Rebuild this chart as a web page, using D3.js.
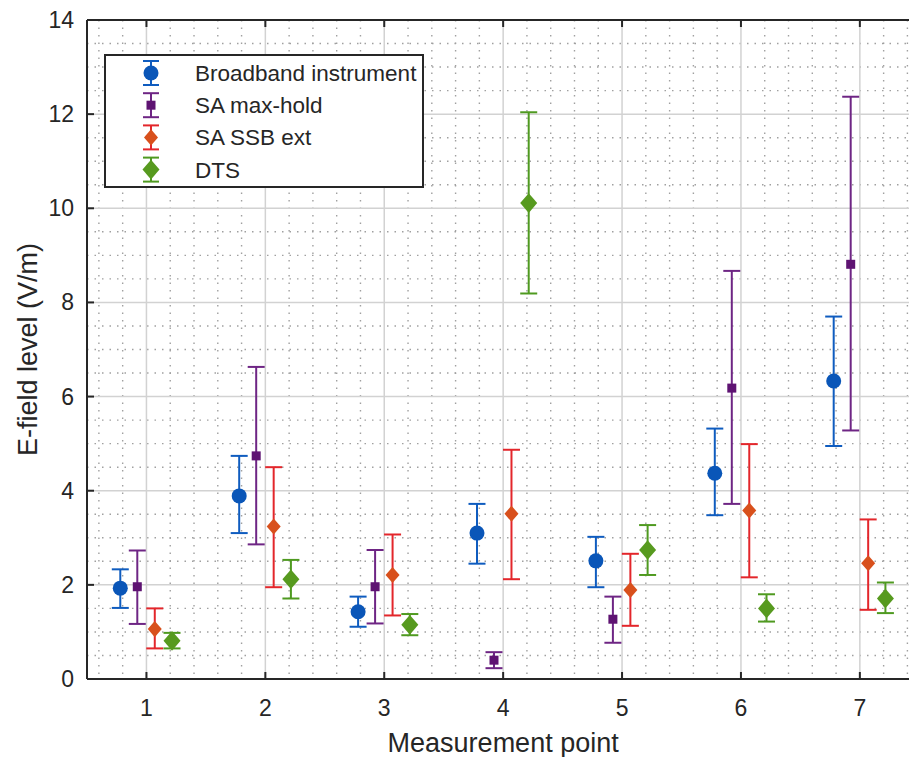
<!DOCTYPE html>
<html>
<head>
<meta charset="utf-8">
<script src="https://cdn.jsdelivr.net/npm/d3@7"></script>
<style>
  body { margin: 0; background: #fff; }
  text { font-family: "Liberation Sans", Arial, sans-serif; fill: #262626; }
</style>
</head>
<body>
<div id="chart"></div>
<script>
// Measurement points
const points = [1, 2, 3, 4, 5, 6, 7];

// Broadband instrument
const broadband = [1.93, 3.89, 1.43, 3.10, 2.51, 4.37, 6.33];
const broadbandLow = [1.51, 3.10, 1.11, 2.45, 1.95, 3.48, 4.95];
const broadbandHigh = [2.33, 4.74, 1.75, 3.72, 3.02, 5.32, 7.70];

// SA max-hold
const maxHold = [1.96, 4.74, 1.96, 0.40, 1.27, 6.18, 8.81];
const maxHoldLow = [1.17, 2.86, 1.18, 0.23, 0.77, 3.72, 5.28];
const maxHoldHigh = [2.73, 6.63, 2.74, 0.57, 1.75, 8.67, 12.37];

// SA SSB ext
const ssb = [1.06, 3.24, 2.21, 3.51, 1.89, 3.58, 2.46];
const ssbLow = [0.65, 1.95, 1.35, 2.12, 1.13, 2.16, 1.47];
const ssbHigh = [1.50, 4.50, 3.07, 4.87, 2.66, 4.99, 3.39];

// DTS
const dts = [0.81, 2.12, 1.15, 10.11, 2.74, 1.50, 1.71];
const dtsLow = [0.65, 1.71, 0.93, 8.19, 2.21, 1.22, 1.40];
const dtsHigh = [0.98, 2.53, 1.38, 12.04, 3.27, 1.80, 2.05];

const yTicks = [0, 2, 4, 6, 8, 10, 12, 14];

const series = [
  { name: "Broadband instrument", mid: broadband, lo: broadbandLow, hi: broadbandHigh,
    offset: -0.22, bar: "#0f5cbf", fill: "#0a56b8", shape: "circle", size: 7.5 },
  { name: "SA max-hold", mid: maxHold, lo: maxHoldLow, hi: maxHoldHigh,
    offset: -0.077, bar: "#6e2584", fill: "#5e1372", shape: "square", size: 4.5 },
  { name: "SA SSB ext", mid: ssb, lo: ssbLow, hi: ssbHigh,
    offset: 0.07, bar: "#e3262b", fill: "#d8501c", shape: "diamond", size: 7 },
  { name: "DTS", mid: dts, lo: dtsLow, hi: dtsHigh,
    offset: 0.215, bar: "#4f9a20", fill: "#579a1f", shape: "diamond", size: 8.5 }
];

const width = 909, height = 757;
const plot = { left: 87, top: 20, bottom: 679 };

const svg = d3.select("#chart").append("svg")
  .attr("width", width)
  .attr("height", height);

const x = d3.scaleLinear().domain([0.5, 7.5]).range([plot.left, plot.left + 7 * 118.9]);
const y = d3.scaleLinear().domain([0, 14]).range([plot.bottom, plot.top]);
const xr = x.range();

// minor grid
const grid = svg.append("g");
grid.selectAll(".mx")
  .data(d3.range(0.6, 7.5, 0.2).filter(v => Math.abs(v - Math.round(v)) > 0.05))
  .enter().append("line")
  .attr("x1", d => x(d)).attr("x2", d => x(d))
  .attr("y1", plot.top).attr("y2", plot.bottom)
  .attr("stroke", "#a0a0a0").attr("stroke-width", 1.4)
  .attr("stroke-dasharray", "1.5,6");
grid.selectAll(".my")
  .data(d3.range(0.5, 14, 0.5).filter(v => v % 2 !== 0))
  .enter().append("line")
  .attr("x1", xr[0]).attr("x2", xr[1])
  .attr("y1", d => y(d)).attr("y2", d => y(d))
  .attr("stroke", "#a0a0a0").attr("stroke-width", 1.4)
  .attr("stroke-dasharray", "1.5,6");

// major grid
grid.selectAll(".gx").data(points).enter().append("line")
  .attr("x1", d => x(d)).attr("x2", d => x(d))
  .attr("y1", plot.top).attr("y2", plot.bottom)
  .attr("stroke", "#d2d2d2").attr("stroke-width", 1.5);
grid.selectAll(".gy").data(yTicks.slice(1, -1)).enter().append("line")
  .attr("x1", xr[0]).attr("x2", xr[1])
  .attr("y1", d => y(d)).attr("y2", d => y(d))
  .attr("stroke", "#d2d2d2").attr("stroke-width", 1.5);

// marker drawing
function marker(g, s, cx, cy) {
  if (s.shape === "circle") {
    g.append("circle").attr("cx", cx).attr("cy", cy).attr("r", s.size).attr("fill", s.fill);
  } else if (s.shape === "square") {
    g.append("rect").attr("x", cx - s.size).attr("y", cy - s.size)
      .attr("width", 2 * s.size).attr("height", 2 * s.size).attr("fill", s.fill);
  } else {
    const r = s.size;
    g.append("path")
      .attr("d", `M${cx},${cy - r * 1.15}L${cx + r},${cy}L${cx},${cy + r * 1.15}L${cx - r},${cy}Z`)
      .attr("fill", s.fill);
  }
}

function errorBar(g, s, cx, yTop, yBot, cap) {
  g.append("line").attr("x1", cx).attr("x2", cx).attr("y1", yTop).attr("y2", yBot)
    .attr("stroke", s.bar).attr("stroke-width", 2);
  [yTop, yBot].forEach(v => {
    g.append("line").attr("x1", cx - cap).attr("x2", cx + cap).attr("y1", v).attr("y2", v)
      .attr("stroke", s.bar).attr("stroke-width", 2);
  });
}

// series
series.forEach(s => {
  const g = svg.append("g");
  points.forEach((p, i) => {
    const cx = x(p + s.offset);
    errorBar(g, s, cx, y(s.hi[i]), y(s.lo[i]), 8.5);
    marker(g, s, cx, y(s.mid[i]));
  });
});

// axes frame
const axisColor = "#262626";
svg.append("line").attr("x1", xr[0]).attr("x2", xr[1]).attr("y1", plot.bottom).attr("y2", plot.bottom)
  .attr("stroke", axisColor).attr("stroke-width", 2);
svg.append("line").attr("x1", xr[0]).attr("x2", xr[1]).attr("y1", plot.top).attr("y2", plot.top)
  .attr("stroke", axisColor).attr("stroke-width", 2);
svg.append("line").attr("x1", plot.left).attr("x2", plot.left).attr("y1", plot.top).attr("y2", plot.bottom)
  .attr("stroke", axisColor).attr("stroke-width", 2);

// ticks
points.forEach(p => {
  svg.append("line").attr("x1", x(p)).attr("x2", x(p)).attr("y1", plot.bottom).attr("y2", plot.bottom - 7)
    .attr("stroke", axisColor).attr("stroke-width", 2);
  svg.append("line").attr("x1", x(p)).attr("x2", x(p)).attr("y1", plot.top).attr("y2", plot.top + 7)
    .attr("stroke", axisColor).attr("stroke-width", 2);
});
yTicks.forEach(t => {
  svg.append("line").attr("x1", plot.left).attr("x2", plot.left + 7).attr("y1", y(t)).attr("y2", y(t))
    .attr("stroke", axisColor).attr("stroke-width", 2);
});

// tick labels
svg.selectAll(".xl").data(points).enter().append("text")
  .attr("x", d => x(d)).attr("y", 716)
  .attr("text-anchor", "middle").style("font-size", "23px")
  .text(d => d);
svg.selectAll(".yl").data(yTicks).enter().append("text")
  .attr("x", 74).attr("y", d => y(d) + 8)
  .attr("text-anchor", "end").style("font-size", "23px")
  .text(d => d);

// axis titles
svg.append("text")
  .attr("x", x(4)).attr("y", 752)
  .attr("text-anchor", "middle").style("font-size", "27px")
  .text("Measurement point");
svg.append("text")
  .attr("transform", `translate(37, ${(plot.top + plot.bottom) / 2}) rotate(-90)`)
  .attr("text-anchor", "middle").style("font-size", "27px")
  .text("E-field level (V/m)");

// legend
const legend = svg.append("g");
legend.append("rect")
  .attr("x", 105).attr("y", 55).attr("width", 318).attr("height", 132)
  .attr("fill", "#fff").attr("stroke", "#262626").attr("stroke-width", 2);
series.forEach((s, i) => {
  const ly = 73 + i * 32.2;
  errorBar(legend, s, 151, ly - 12, ly + 12, 8);
  marker(legend, s, 151, ly);
  legend.append("text")
    .attr("x", 195).attr("y", ly + 8)
    .style("font-size", "22.5px")
    .text(s.name);
});
</script>
</body>
</html>
